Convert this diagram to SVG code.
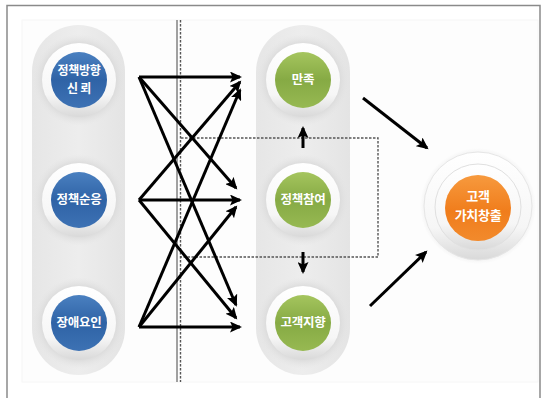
<svg xmlns="http://www.w3.org/2000/svg" width="545" height="398" viewBox="0 0 545 398">
  <style>
    .lbl { font-family: "Noto Sans CJK KR", "Noto Sans", sans-serif; font-weight: 700; fill: #ffffff; text-anchor: middle; letter-spacing: -0.3px; }
    .s12 { font-size: 12.5px; }
    .s12t { font-size: 12px; }
    .s13 { font-size: 13px; }
    .edge { stroke: #000; stroke-width: 3; fill: none; marker-end: url(#head); }
    .dash { stroke: #555; stroke-width: 1.4; fill: none; stroke-dasharray: 2.5 1.5; }
  </style>
  <defs>
    <marker id="head" markerUnits="userSpaceOnUse" markerWidth="13" markerHeight="11" refX="10" refY="5.5" orient="auto">
      <path d="M0,0 L12,5.5 L0,11 L2.5,5.5 Z" fill="#000"/>
    </marker>
    <linearGradient id="pill" x1="0" y1="0" x2="1" y2="0">
      <stop offset="0" stop-color="#e6e6e6"/>
      <stop offset="0.5" stop-color="#ededed"/>
      <stop offset="1" stop-color="#e4e4e4"/>
    </linearGradient>
    <radialGradient id="halo">
      <stop offset="0.75" stop-color="#d6d6d6"/>
      <stop offset="1" stop-color="#e4e4e4" stop-opacity="0"/>
    </radialGradient>
    <linearGradient id="ring" x1="0" y1="0" x2="0" y2="1">
      <stop offset="0" stop-color="#ffffff"/>
      <stop offset="0.7" stop-color="#f6f6f6"/>
      <stop offset="1" stop-color="#d9d9d9"/>
    </linearGradient>
    <linearGradient id="blue" x1="0" y1="0" x2="0" y2="1">
      <stop offset="0" stop-color="#4a80c0"/>
      <stop offset="0.5" stop-color="#2f63a6"/>
      <stop offset="1" stop-color="#3d72b4"/>
    </linearGradient>
    <linearGradient id="green" x1="0" y1="0" x2="0" y2="1">
      <stop offset="0" stop-color="#a5c55e"/>
      <stop offset="0.5" stop-color="#86aa44"/>
      <stop offset="1" stop-color="#97b952"/>
    </linearGradient>
    <linearGradient id="orange" x1="0" y1="0" x2="0" y2="1">
      <stop offset="0" stop-color="#f79a3e"/>
      <stop offset="0.55" stop-color="#f07d1c"/>
      <stop offset="1" stop-color="#f28a2c"/>
    </linearGradient>
  </defs>

  <!-- frame and panel -->
  <rect x="0" y="0" width="545" height="398" fill="#ffffff"/>
  <path d="M7,398 V5.5 H540 V398" fill="none" stroke="#8a8a8a" stroke-width="1.5"/>
  <rect x="22" y="20" width="516" height="362" fill="#fdfdfd" stroke="#f6f6f6" stroke-width="1"/>

  <!-- column backgrounds -->
  <rect x="32" y="25" width="93" height="350" rx="46.5" fill="url(#pill)"/>
  <rect x="256" y="25" width="94" height="350" rx="47" fill="url(#pill)"/>

  <!-- divider -->
  <line x1="177" y1="20" x2="177" y2="382" stroke="#444" stroke-width="1"/>
  <line x1="180.5" y1="20" x2="180.5" y2="382" class="dash"/>

  <!-- nodes -->
  <g id="trust">
    <circle cx="79" cy="80" r="46" fill="url(#halo)"/>
    <circle cx="79" cy="80" r="37" fill="url(#ring)"/>
    <circle cx="79" cy="80" r="28" fill="url(#blue)"/>
    <text class="lbl s12t" x="79" y="75">정책방향</text>
    <text class="lbl s12t" x="79" y="93">신 뢰</text>
  </g>
  <g id="compliance">
    <circle cx="79" cy="200" r="46" fill="url(#halo)"/>
    <circle cx="79" cy="200" r="37" fill="url(#ring)"/>
    <circle cx="79" cy="200" r="28" fill="url(#blue)"/>
    <text class="lbl s12" x="79" y="204">정책순응</text>
  </g>
  <g id="barrier">
    <circle cx="79" cy="323" r="46" fill="url(#halo)"/>
    <circle cx="79" cy="323" r="37" fill="url(#ring)"/>
    <circle cx="79" cy="323" r="28" fill="url(#blue)"/>
    <text class="lbl s12" x="79" y="327">장애요인</text>
  </g>
  <g id="satisfaction">
    <circle cx="303" cy="80" r="46" fill="url(#halo)"/>
    <circle cx="303" cy="80" r="37" fill="url(#ring)"/>
    <circle cx="303" cy="80" r="28" fill="url(#green)"/>
    <text class="lbl s12" x="303" y="84">만족</text>
  </g>
  <g id="participation">
    <circle cx="303" cy="200" r="46" fill="url(#halo)"/>
    <circle cx="303" cy="200" r="37" fill="url(#ring)"/>
    <circle cx="303" cy="200" r="28" fill="url(#green)"/>
    <text class="lbl s12" x="303" y="204">정책참여</text>
  </g>
  <g id="customer">
    <circle cx="303" cy="323" r="46" fill="url(#halo)"/>
    <circle cx="303" cy="323" r="37" fill="url(#ring)"/>
    <circle cx="303" cy="323" r="28" fill="url(#green)"/>
    <text class="lbl s12" x="303" y="327">고객지향</text>
  </g>
  <g id="value">
    <circle cx="478" cy="206" r="58" fill="url(#halo)"/>
    <circle cx="478" cy="206" r="54" fill="url(#ring)" stroke="#e6e6e6" stroke-width="1"/>
    <circle cx="478" cy="207" r="43" fill="url(#ring)" stroke="#e0e0e0" stroke-width="1"/>
    <circle cx="478" cy="208" r="33" fill="url(#orange)"/>
    <text class="lbl s13" x="478" y="201">고객</text>
    <text class="lbl s13" x="478" y="220">가치창출</text>
  </g>

  <!-- connectors -->
  <g id="connectors">
    <path class="dash" d="M181,138 H378 V257 H181"/>
    <line class="edge" x1="139" y1="77" x2="240" y2="77"/>
    <line class="edge" x1="139" y1="77" x2="236" y2="188"/>
    <line class="edge" x1="139" y1="77" x2="236" y2="305"/>
    <line class="edge" x1="139" y1="200" x2="240" y2="82"/>
    <line class="edge" x1="139" y1="200" x2="240" y2="200"/>
    <line class="edge" x1="139" y1="200" x2="236" y2="318"/>
    <line class="edge" x1="139" y1="327" x2="240" y2="90"/>
    <line class="edge" x1="139" y1="327" x2="236" y2="207"/>
    <line class="edge" x1="139" y1="327" x2="240" y2="327"/>
    <line class="edge" x1="303" y1="148" x2="303" y2="128"/>
    <line class="edge" x1="303" y1="252" x2="303" y2="272"/>
    <line class="edge" x1="363" y1="98" x2="427" y2="148"/>
    <line class="edge" x1="370" y1="306" x2="426" y2="252"/>
  </g>
</svg>
